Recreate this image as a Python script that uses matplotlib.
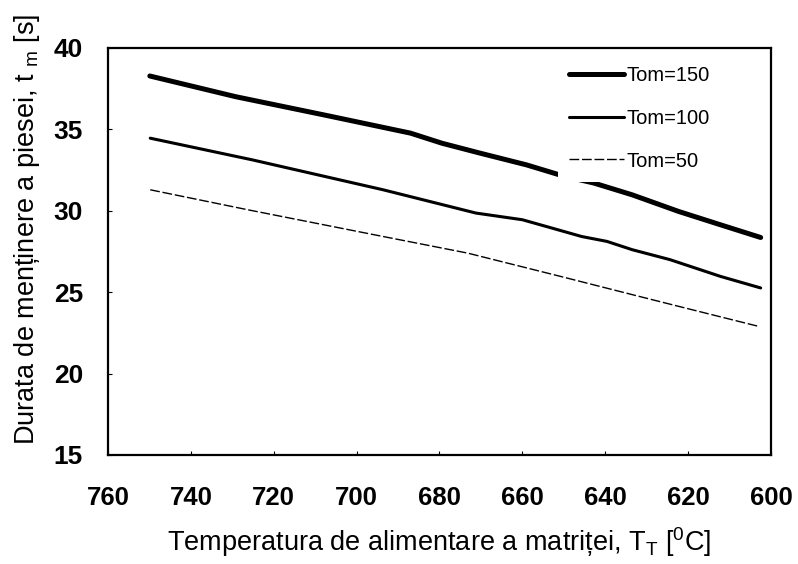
import matplotlib.pyplot as plt

plt.rcParams['font.family'] = ['Liberation Sans', 'DejaVu Sans']

x150 = [749.9, 729.2, 707.9, 687.0, 679.4, 670.2, 659.0, 650.3, 642.7, 633.5, 622.3, 612.2, 602.5]
y150 = [38.28, 37.01, 35.89, 34.77, 34.15, 33.54, 32.82, 32.15, 31.70, 30.98, 29.96, 29.14, 28.36]

x100 = [749.8, 725.2, 693.6, 671.2, 660.0, 652.9, 645.7, 639.6, 633.5, 624.4, 612.2, 602.5]
y100 = [34.46, 33.13, 31.29, 29.86, 29.45, 28.94, 28.42, 28.12, 27.61, 27.00, 25.97, 25.26]

x50 = [749.8, 726.2, 693.6, 673.2, 650.8, 633.5, 622.3, 603.0]
y50 = [31.29, 30.06, 28.42, 27.40, 25.97, 24.85, 24.13, 22.90]

xticks = [760, 740, 720, 700, 680, 660, 640, 620, 600]
yticks = [15, 20, 25, 30, 35, 40]

fig = plt.figure(figsize=(7.98, 5.64), dpi=100)
ax = fig.add_axes([0.1353, 0.1933, 0.8309, 0.7216])

ax.plot(x150, y150, color='black', lw=3.6, solid_capstyle='round', label='Tom=150')
ax.plot(x100, y100, color='black', lw=2.2, solid_capstyle='round', label='Tom=100')
ax.plot(x50, y50, color='black', lw=1.0, dashes=(7, 2), label='Tom=50')

ax.set_xlim(760, 600)
ax.set_ylim(15, 40)
ax.set_xticks(xticks)
ax.set_yticks(yticks)
ax.tick_params(axis='both', direction='in', length=3)
ax.tick_params(axis='x', pad=22, labelsize=18.5)
ax.tick_params(axis='y', pad=18, labelsize=19)
for lab in ax.get_yticklabels() + ax.get_xticklabels():
    lab.set_fontweight('bold')
for s in ax.spines.values():
    s.set_linewidth(1.6)

ax.set_xlabel('Temperatura de alimentare a matriței, T$_\\mathregular{T}$ [$^\\mathregular{0}$C]',
              fontsize=19.5, labelpad=11)
ax.set_ylabel('Durata de menținere a piesei, t $_\\mathregular{m}$ [s]', fontsize=19.5)
ax.yaxis.set_label_coords(-0.100, 0.555)

leg = ax.legend(loc='upper left', bbox_to_anchor=(0.678, 0.983), fontsize=14.5,
                frameon=True, fancybox=False, edgecolor='none', facecolor='white',
                framealpha=1, handlelength=2.74, handletextpad=0.15, labelspacing=1.18,
                borderpad=0.55, borderaxespad=0)

fig.savefig('out.png', dpi=100)
